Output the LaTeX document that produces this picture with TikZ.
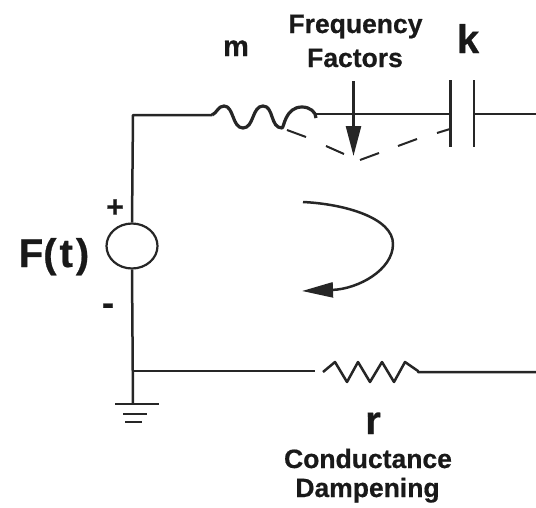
\documentclass[tikz,border=0pt]{standalone}
\usepackage{fontspec}
\setmainfont[BoldFeatures={FakeBold=0.6}]{Liberation Sans}
\usetikzlibrary{shapes.geometric,arrows.meta}
\tikzset{
  wire/.style={line width=2.5pt,draw=black!85,line join=round},
  heavywire/.style={line width=3.2pt,draw=black!85,line join=round},
  thinwire/.style={line width=2pt,draw=black!85,line join=round},
  lbl/.style={inner sep=0pt,anchor=base,font=\bfseries,text=black!90},
  bigtip/.style={-{Triangle[length=30pt,width=15pt]}},
}
\newcommand{\fs}[1]{\fontsize{#1}{#1}\selectfont}
\begin{document}
\begin{tikzpicture}[x=1pt,y=-1pt]
\useasboundingbox (0,0) rectangle (536,507);
% named points
\node[ellipse,draw=black!85,line width=2.2pt,minimum width=51pt,minimum height=45pt,inner sep=0pt] (src) at (132,246) {};
\coordinate (tl) at (133,115);
\coordinate (indL) at (212,115);
\coordinate (indR) at (316,114);
\coordinate (capL) at (450.5,114);
\coordinate (capR) at (474,114);
\coordinate (endT) at (536,114);
\coordinate (bl) at (133,371);
\coordinate (resL) at (315,371);
\coordinate (resA) at (323,372);
\coordinate (resB) at (418,372);
\coordinate (endB) at (536,372);
\coordinate (gnd) at (133,404);
% wires
\draw[wire] (src.north) -- (tl) -- (indL);
\draw[wire] (src.south) -- (gnd);
\draw[heavywire] (indL)
  .. controls (217,113) and (218,106) .. (224,106)
  .. controls (234,106) and (232,128) .. (243,128)
  .. controls (254,128) and (252,106) .. (263,106)
  .. controls (274,106) and (270,128) .. (282,128)
  .. controls (284,128) and (285,107) .. (302,107)
  .. controls (310,107) and (316,112) .. (316,118);
\draw[wire] (indR) -- (capL);
\draw[wire] (capR) -- (endT);
\draw[wire] (bl) -- (resL);
\draw[wire] (resA) -- (335,362) -- (347,382) -- (358,362) -- (370,382) -- (382,362) -- (394,382) -- (405,362) -- (418,371) -- (resB) -- (endB);
% capacitor
\draw[wire] (450.5,80) -- (450.5,147);
\draw[wire] (474,80) -- (474,147);
% ground
\draw[wire] (115,404) -- (159,404);
\draw[wire] (123,414) -- (147,414);
\draw[wire] (125,422) -- (142,422);
% dashes
\draw[thinwire] (287,130) -- (306,137);
\draw[thinwire] (326,146) -- (344,154);
\draw[thinwire] (360,160) -- (379,153);
\draw[thinwire] (398,146) -- (417,139);
\draw[thinwire] (437,133) -- (450,129);
% arrows
\coordinate (fa) at (353.5,81);
\coordinate (fb) at (353.5,156);
\draw[wire,bigtip] (fa) -- (fb);
\coordinate (ca) at (303,202);
\coordinate (cb) at (302,291);
\draw[wire,-{Triangle[length=31pt,width=15pt]}] (ca) .. controls (345,204) and (393,218) .. (393,244)
  .. controls (393,270) and (358,289) .. (cb);
% labels
\node[lbl] (m) at (236,56) {\fs{29}m};
\node[lbl] (ff1) at (355.5,33) {\fs{26.5}Frequency};
\node[lbl] (ff2) at (355,67) {\fs{26.5}Factors};
\node[lbl] (k) at (468,53) {\fs{40}k};
\node[lbl] (ft) at (54,267) {\fs{40}F(\kern3pt t\kern3pt)};
\node[lbl] (plus) at (115,217) {\fs{30}+};
\node[lbl] (minus) at (108,315) {\fs{36}-};
\node[lbl] (r) at (373,434) {\fs{40}r};
\node[lbl] (cd1) at (368,468) {\fs{26.5}Conductance};
\node[lbl] (cd2) at (367.5,497) {\fs{26.5}Dampening};
\end{tikzpicture}
\end{document}
